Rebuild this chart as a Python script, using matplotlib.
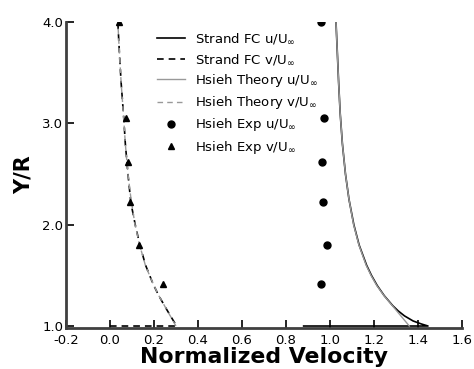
import matplotlib
matplotlib.use("Agg")
import matplotlib.pyplot as plt

# Strand FC results
strand_y = [1.0, 1.0, 1.02, 1.05, 1.1, 1.15, 1.2, 1.3, 1.4, 1.5, 1.6, 1.8, 2.0, 2.25, 2.5, 2.8, 3.1, 3.4, 3.7, 4.0]
strand_u = [0.88, 1.445, 1.415, 1.377, 1.338, 1.309, 1.285, 1.246, 1.214, 1.188, 1.166, 1.132, 1.108, 1.086, 1.07, 1.056, 1.046, 1.039, 1.033, 1.027]
strand_vy = [1.0, 1.0, 1.1, 1.2, 1.3, 1.41, 1.6, 1.8, 2.0, 2.22, 2.5, 2.8, 3.05, 3.4, 3.7, 4.0]
strand_v = [0.0, 0.303, 0.275, 0.248, 0.222, 0.197, 0.162, 0.136, 0.115, 0.095, 0.082, 0.07, 0.063, 0.051, 0.043, 0.036]

# Hsieh theory
theory_y = [1.0, 1.3, 1.4, 1.5, 1.6, 1.8, 2.0, 2.25, 2.5, 2.8, 3.1, 3.4, 3.7, 4.0]
theory_u = [1.36, 1.245, 1.212, 1.186, 1.164, 1.131, 1.107, 1.086, 1.07, 1.056, 1.046, 1.039, 1.033, 1.027]
theory_v = [0.30, 0.222, 0.2, 0.18, 0.161, 0.135, 0.114, 0.096, 0.082, 0.07, 0.061, 0.051, 0.043, 0.036]

# Hsieh experiment
exp_y = [4.0, 3.05, 2.62, 2.22, 1.80, 1.41]
exp_u = [0.961, 0.973, 0.964, 0.97, 0.985, 0.957]
exp_v = [0.04, 0.073, 0.083, 0.09, 0.13, 0.242]

xticks = [-0.2, 0.0, 0.2, 0.4, 0.6, 0.8, 1.0, 1.2, 1.4, 1.6]
yticks = [1.0, 2.0, 3.0, 4.0]


def draw_chart():
    fig = plt.figure(figsize=(4.74, 3.69), dpi=100)
    ax = fig.add_axes([0.139, 0.111, 0.836, 0.829])

    ax.plot(strand_u, strand_y, color="black", lw=1.2, label=r"Strand FC u/U$_\infty$")
    ax.plot(strand_v, strand_vy, color="black", lw=1.2, ls=(0, (4, 3)), label=r"Strand FC v/U$_\infty$")
    ax.plot(theory_u, theory_y, color="#999999", lw=1.0, label=r"Hsieh Theory u/U$_\infty$")
    ax.plot(theory_v, theory_y, color="#999999", lw=1.0, ls=(0, (4, 3)), label=r"Hsieh Theory v/U$_\infty$")
    ax.plot(exp_u, exp_y, "o", color="black", ms=5, label=r"Hsieh Exp u/U$_\infty$")
    ax.plot(exp_v, exp_y, "^", color="black", ms=5, label=r"Hsieh Exp v/U$_\infty$")

    ax.set_xlim(-0.2, 1.6)
    ax.set_ylim(0.98, 4.0)
    ax.set_xticks(xticks)
    ax.set_xticklabels([f"{t:.1f}" for t in xticks])
    ax.set_yticks(yticks)
    ax.set_yticklabels([f"{t:.1f}" for t in yticks])

    for side in ["top", "right"]:
        ax.spines[side].set_visible(False)
    for side in ["left", "bottom"]:
        ax.spines[side].set_linewidth(2)
        ax.spines[side].set_color("#404040")
    ax.tick_params(direction="in", length=6, width=1.2, labelsize=9.5)
    ax.tick_params(axis="x", pad=4)
    ax.tick_params(axis="y", pad=2)

    ax.set_xlabel("Normalized Velocity", fontsize=15.8, fontweight="bold", labelpad=0)
    ax.set_ylabel("Y/R", fontsize=15, fontweight="bold", labelpad=6)

    ax.legend(loc="upper left", bbox_to_anchor=(0.2, 1.008), frameon=False,
              fontsize=9.5, handlelength=2.1, handletextpad=0.8, labelspacing=0.4)

    fig.savefig("out.png", dpi=100)


if __name__ == "__main__":
    draw_chart()
